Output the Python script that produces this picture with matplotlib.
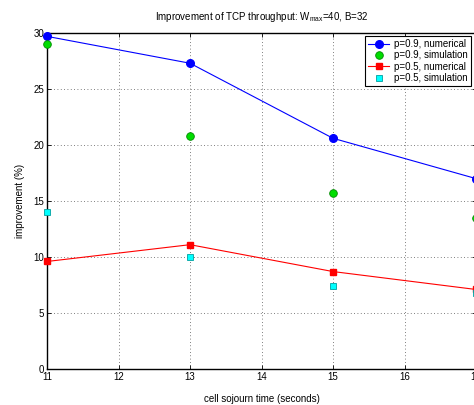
import matplotlib
matplotlib.use("Agg")
import matplotlib.pyplot as plt

# cell sojourn time (seconds)
sojourn = [11, 13, 15, 17]

p09_numerical = [29.7, 27.3, 20.6, 17.0]
p09_simulation = [29.0, 20.8, 15.7, 13.5]
p05_numerical = [9.6, 11.1, 8.7, 7.1]
p05_simulation = [14.0, 10.0, 7.4, 6.8]

x_ticks = [11, 12, 13, 14, 15, 16, 17]
y_ticks = [0, 5, 10, 15, 20, 25, 30]

plt.rcParams["font.family"] = ["Liberation Sans", "DejaVu Sans"]

fig = plt.figure(figsize=(4.74, 4.05), dpi=100)
# the original figure is cropped on the right, so the axes run past the edge
ax = fig.add_axes([47 / 474, 36 / 405, 429 / 474, 336 / 405])

ax.plot(sojourn, p09_numerical, color="blue", linewidth=0.8, marker="o",
        markersize=5.5, markerfacecolor="blue", markeredgecolor="blue",
        label="p=0.9, numerical", clip_on=False, zorder=3)
ax.plot(sojourn, p09_simulation, linestyle="none", marker="o", markersize=5.5,
        markerfacecolor="#00dd00", markeredgecolor="#008800", markeredgewidth=0.6,
        label="p=0.9, simulation", clip_on=False, zorder=3)
ax.plot(sojourn, p05_numerical, color="red", linewidth=0.8, marker="s",
        markersize=5, markerfacecolor="red", markeredgecolor="red",
        label="p=0.5, numerical", clip_on=False, zorder=3)
ax.plot(sojourn, p05_simulation, linestyle="none", marker="s", markersize=4.5,
        markerfacecolor="cyan", markeredgecolor="#00a0a0", markeredgewidth=0.6,
        label="p=0.5, simulation", clip_on=False, zorder=3)

ax.set_xlim(11, 17)
ax.set_ylim(0, 30)
ax.set_xticks(x_ticks)
ax.set_yticks(y_ticks)
ax.tick_params(direction="in", top=True, right=True, labelsize=7, length=3,
               width=0.6, pad=2)
ax.grid(True, linestyle=(0, (1, 3)), color="#555555", linewidth=0.6)
for s in ax.spines.values():
    s.set_linewidth(1.0)

ax.set_title("Improvement of TCP throughput: W$_{\\mathregular{max}}$=40, B=32",
             fontsize=7, pad=9)
ax.set_xlabel("cell sojourn time (seconds)", fontsize=7, labelpad=9)
ax.set_ylabel("improvement (%)", fontsize=7, labelpad=6)

leg = ax.legend(loc="upper right", bbox_to_anchor=(471 / 474, 1 - 36 / 405),
                bbox_transform=fig.transFigure, fontsize=7, fancybox=False,
                framealpha=1, edgecolor="black", borderpad=0.3,
                labelspacing=0.15, handlelength=2.2, handletextpad=0.5,
                borderaxespad=0)
leg.get_frame().set_linewidth(0.8)

fig.savefig("out.png", dpi=100)
